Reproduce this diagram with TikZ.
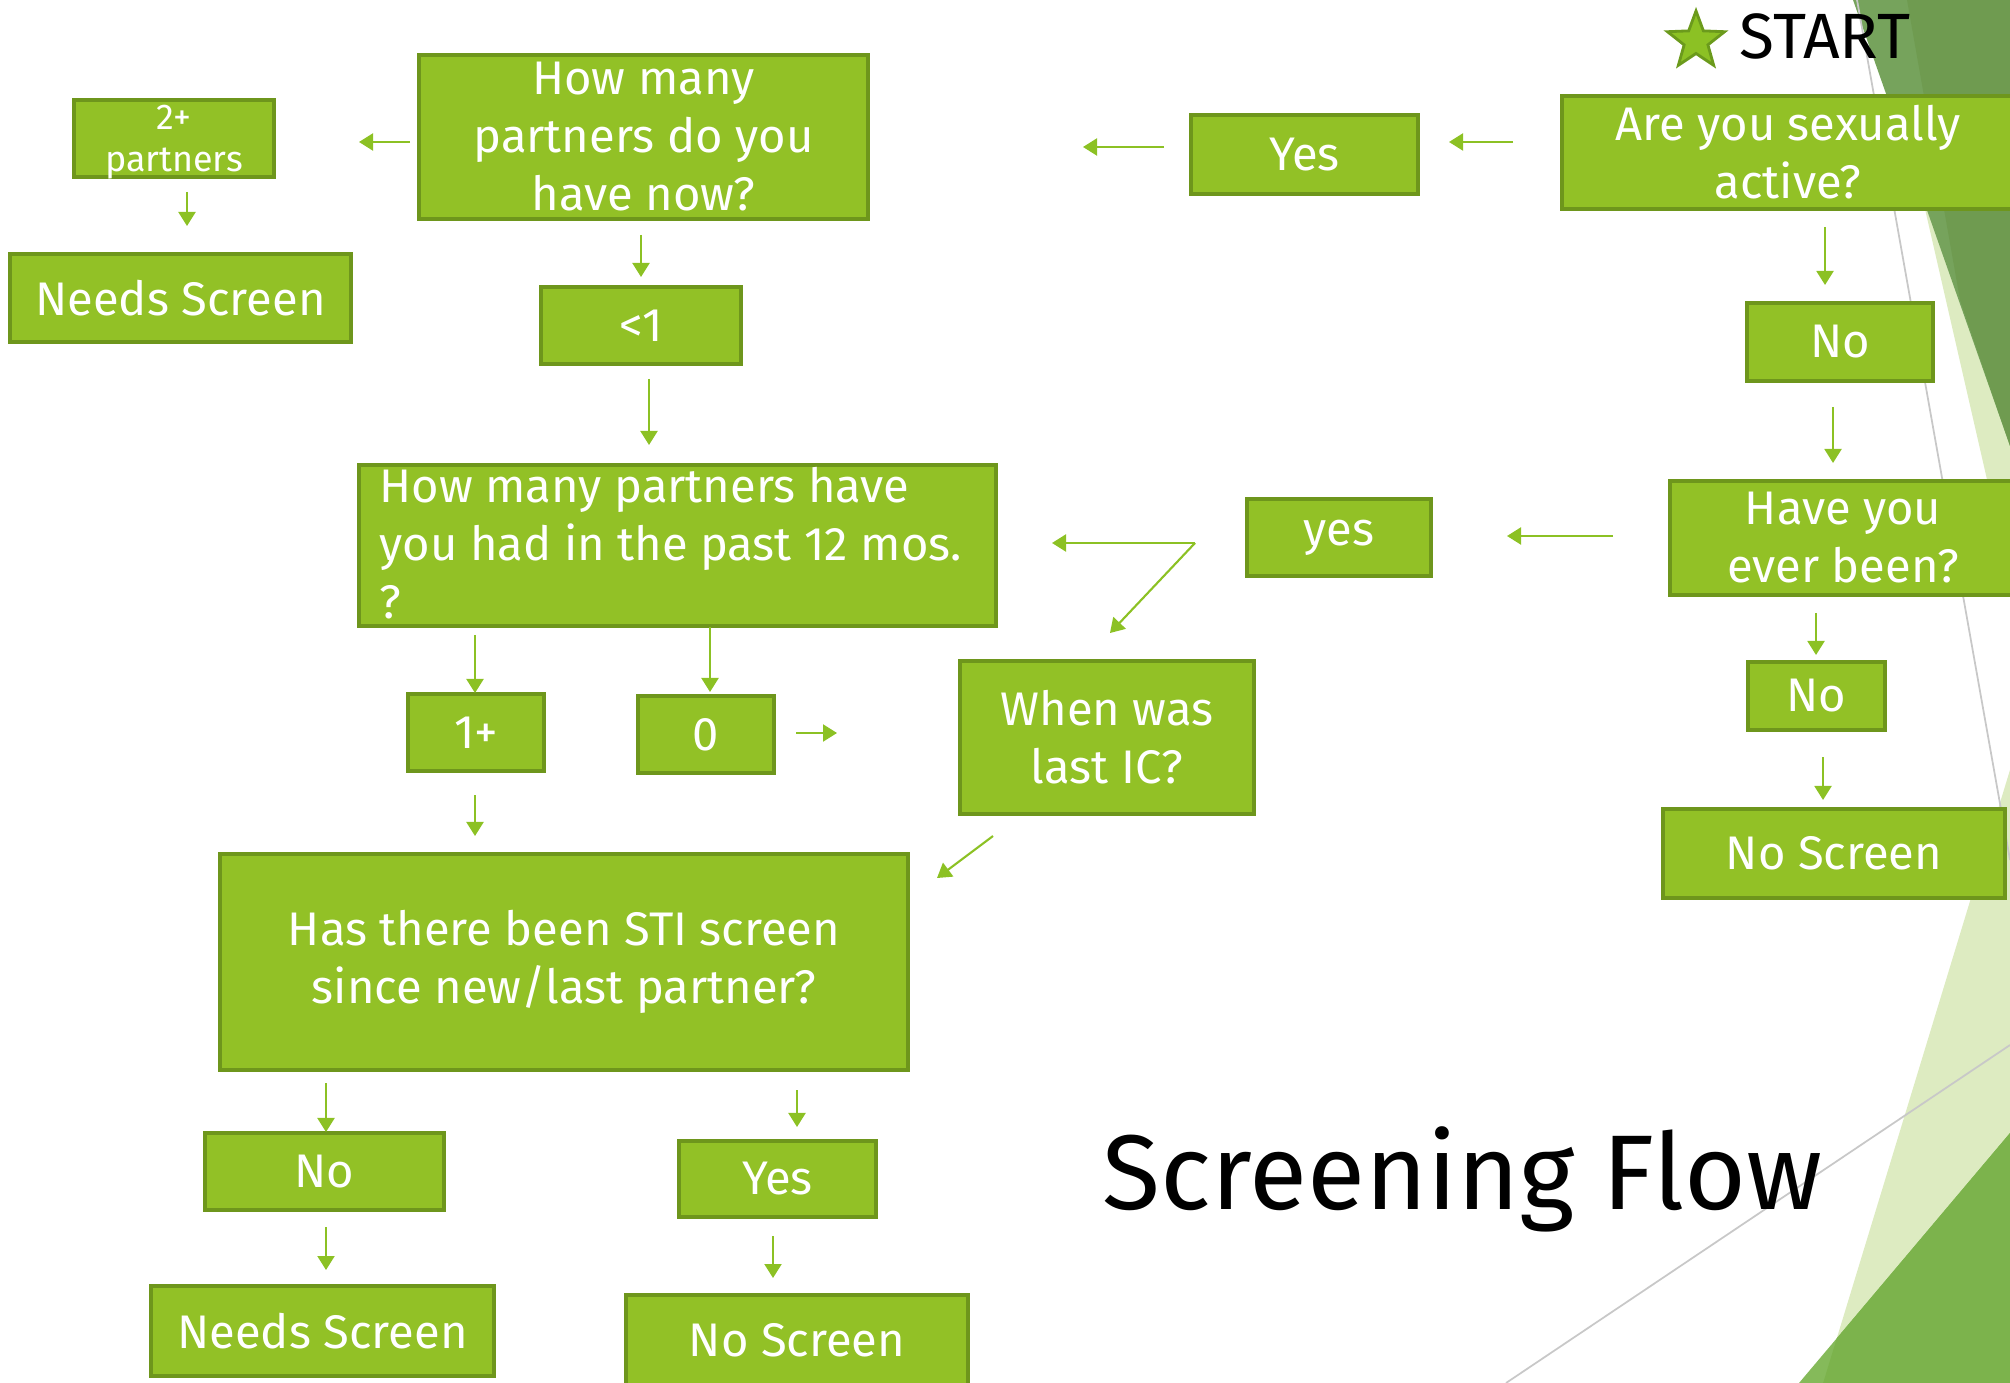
\documentclass[tikz,border=0pt]{standalone}
\usepackage{fontspec}
\setmainfont{Fira Sans}
\usetikzlibrary{arrows.meta,shapes.geometric}
\definecolor{boxfill}{HTML}{92C126}
\definecolor{boxline}{HTML}{6E961C}
\definecolor{arrowc}{HTML}{8CC124}
\definecolor{starline}{HTML}{6B9A1C}
\definecolor{paleg}{HTML}{DDEBC1}
\definecolor{topA}{HTML}{76A35C}
\definecolor{topB}{HTML}{6F9B50}
\definecolor{botA}{HTML}{85BA5A}
\definecolor{botB}{HTML}{7CB34C}
\definecolor{grayline}{HTML}{C8C8C8}
\begin{document}
\begin{tikzpicture}[x=0.01cm,y=-0.01cm,
  box/.style={draw=boxline, fill=boxfill, line width=1pt, inner sep=0pt, text=white, align=center,
    font=\fontsize{13.4}{16.5}\selectfont},
  boxtext/.style={text=white, inner sep=0pt},
  arr/.style={draw=arrowc, line width=0.6pt, -{Triangle[length=1.4mm,width=1.7mm]}},
  bgline/.style={draw=grayline, line width=0.5pt},
]
\useasboundingbox (0,0) rectangle (2010,1383);
% ---------- background ----------
\begin{scope}
\clip (0,0) rectangle (2010,1383);
\fill[paleg] (1900,100) -- (2010,100) -- (2010,580) -- cycle;
\fill[paleg] (2013,760) -- (2013,1390) -- (1821,1390) -- cycle;
\fill[topA] (1853,0) -- (2010,0) -- (2010,446) -- cycle;
\fill[topB] (1907,0) -- (2010,0) -- (2010,446) -- (1960,300) -- cycle;
\fill[botA] (1799,1383) -- (2010,1133) -- (2010,1383) -- cycle;
\begin{scope}
\clip (2013,760) -- (2013,1390) -- (1821,1390) -- cycle;
\fill[botB] (1799,1383) -- (2010,1133) -- (2010,1383) -- cycle;
\end{scope}
\draw[bgline] (1857,0) -- (2010,860);
\draw[bgline] (1506,1383) -- (2010,1045);
\end{scope}
% ---------- titles ----------
\node[star, star points=5, star point ratio=2.4, fill=arrowc, draw=starline, line width=0.8pt,
  minimum size=0.6cm, inner sep=0pt] (star) at (1696,41) {};
\node[anchor=west, inner sep=0pt, font=\fontsize{18.2}{20}\selectfont] (start) at (1739,36) {START};
\node[anchor=base west, inner sep=0pt, font=\fontsize{30.2}{33}\selectfont] (title) at (1102,1209) {Screening Flow};
% ---------- boxes ----------
\node[box, minimum width=4.52cm, minimum height=1.13cm] (sa) at (1788,152.5) {Are you sexually\\active?};
\node[box, minimum width=2.27cm, minimum height=0.79cm] (yes1) at (1304.5,154.5) {Yes};
\node[box, minimum width=4.49cm, minimum height=1.64cm] (hmn) at (643.5,137) {How many\\partners do you\\have now?};
\node[box, minimum width=2.00cm, minimum height=0.77cm] (two) at (174,138.5) {};
\node[boxtext, align=center, font=\fontsize{10.2}{11.9}\selectfont] (twot) at (174,142) {2+\\partners};
\node[box, minimum width=3.41cm, minimum height=0.88cm] (ns1) at (180.5,298) {Needs Screen};
\node[box, minimum width=2.00cm, minimum height=0.77cm] (lt1) at (641,325.5) {<1};
\node[box, minimum width=6.37cm, minimum height=1.61cm] (q12) at (677.5,545.5) {};
\node[boxtext, anchor=west, align=left, font=\fontsize{13.4}{16.5}\selectfont] (q12t) at (379,543) {How many partners have\\you had in the past 12 mos.\\?};
\node[box, minimum width=1.84cm, minimum height=0.77cm] (yes2) at (1339,537.5) {yes};
\node[box, minimum width=1.86cm, minimum height=0.78cm] (no1) at (1840,342) {No};
\node[box, minimum width=3.46cm, minimum height=1.14cm] (ever) at (1843,538) {Have you\\ever been?};
\node[box, minimum width=1.37cm, minimum height=0.68cm] (no2) at (1816.5,696) {No};
\node[box, minimum width=3.42cm, minimum height=0.89cm] (nsr) at (1834,853.5) {No Screen};
\node[box, minimum width=2.94cm, minimum height=1.53cm] (ic) at (1107,737.5) {When was\\last IC?};
\node[box, minimum width=1.36cm, minimum height=0.77cm] (one) at (476,732.5) {1+};
\node[box, minimum width=1.36cm, minimum height=0.77cm] (zero) at (706,734.5) {0};
\node[box, minimum width=6.88cm, minimum height=2.16cm] (sti) at (564,962) {Has there been STI screen\\since new/last partner?};
\node[box, minimum width=2.39cm, minimum height=0.77cm] (no3) at (324.5,1171.5) {No};
\node[box, minimum width=1.97cm, minimum height=0.76cm] (yes3) at (777.5,1179) {Yes};
\node[box, minimum width=3.43cm, minimum height=0.90cm] (ns2) at (322.5,1331) {Needs Screen};
\node[box, minimum width=3.42cm, minimum height=0.90cm] (nsb) at (797,1340) {No Screen};
% ---------- connector end points ----------
\coordinate (a0) at (1513,142);  \coordinate (a1) at (1449,142);
\coordinate (b0) at (1164,147);  \coordinate (b1) at (1083,147);
\coordinate (c0) at (410,142);   \coordinate (c1) at (359,142);
\coordinate (d0) at (187,192);   \coordinate (d1) at (187,226);
\coordinate (e0) at (641,235);   \coordinate (e1) at (641,277);
\coordinate (f0) at (649,379);   \coordinate (f1) at (649,445);
\coordinate (g0) at (1825,227);  \coordinate (g1) at (1825,285);
\coordinate (h0) at (1833,407);  \coordinate (h1) at (1833,463);
\coordinate (i0) at (1613,536);  \coordinate (i1) at (1507,536);
\coordinate (jc) at (1195,543);  \coordinate (j1) at (1052,543); \coordinate (j2) at (1110,633);
\coordinate (k0) at (475,635);   \coordinate (k1) at (475,693);
\coordinate (l0) at (710,627);   \coordinate (l1) at (710,692);
\coordinate (m0) at (796,733);   \coordinate (m1) at (837,733);
\coordinate (n0) at (475,795);   \coordinate (n1) at (475,836);
\coordinate (o0) at (993,836);   \coordinate (o1) at (937,878);
\coordinate (p0) at (326,1083);  \coordinate (p1) at (326,1132);
\coordinate (q0) at (797,1090);  \coordinate (q1) at (797,1127);
\coordinate (r0) at (326,1227);  \coordinate (r1) at (326,1270);
\coordinate (s0) at (773,1236);  \coordinate (s1) at (773,1278);
\coordinate (t0) at (1816,613);  \coordinate (t1) at (1816,655);
\coordinate (u0) at (1823,757);  \coordinate (u1) at (1823,800);
% ---------- connectors ----------
\foreach \p in {a,b,c,d,e,f,g,h,i,k,l,m,n,o,p,q,r,s,t,u}
  \draw[arr] (\p0) -- (\p1);
\draw[arr] (jc) -- (j1);
\draw[arr] (jc) -- (j2);
\end{tikzpicture}
\end{document}
